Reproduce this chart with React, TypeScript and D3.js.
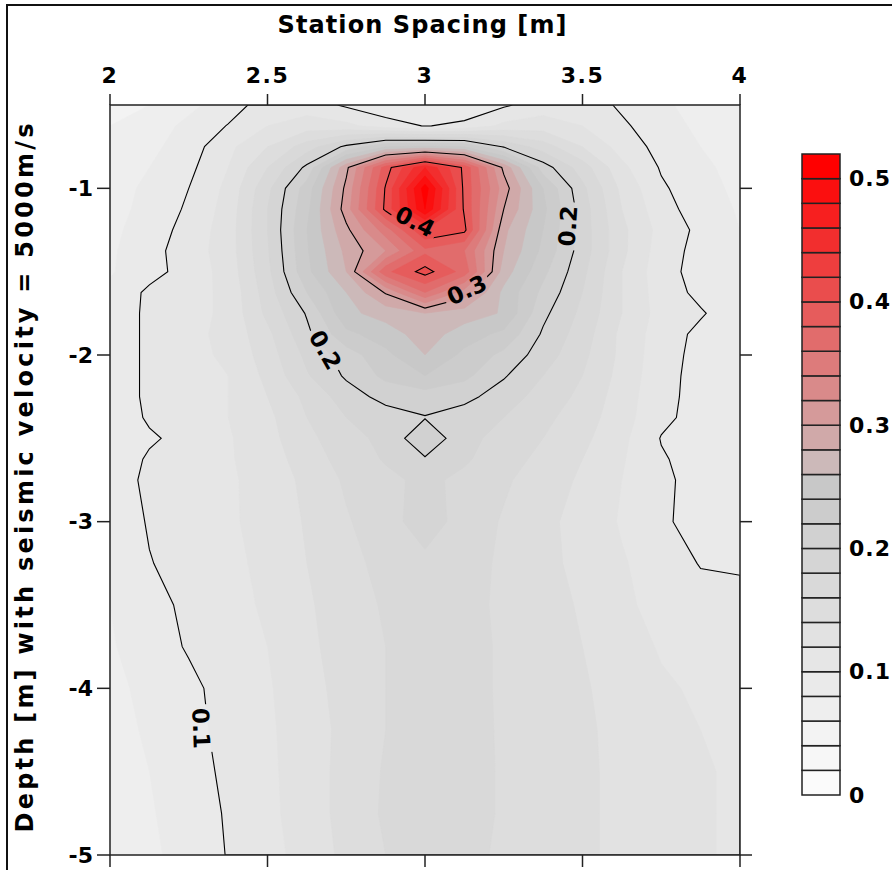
import React from "react";
import * as d3 from "d3";

// grid of the sensitivity section
const stationX = [2, 2.125, 2.25, 2.375, 2.5, 2.625, 2.75, 2.875, 3, 3.125, 3.25, 3.375, 3.5, 3.625, 3.75, 3.875, 4];
const depthRows = [-0.5, -0.625, -0.75, -0.875, -1, -1.125, -1.25, -1.375, -1.5, -1.625, -1.75, -1.875, -2, -2.125,
  -2.25, -2.375, -2.5, -2.625, -2.75, -3, -3.25, -3.5, -3.75, -4, -4.25, -4.5, -4.75, -5];
const sensitivity = [
  [0.050, 0.060, 0.075, 0.090, 0.110, 0.110, 0.097, 0.085, 0.080, 0.085, 0.097, 0.110, 0.110, 0.097, 0.085, 0.070, 0.060],
  [0.060, 0.070, 0.085, 0.101, 0.120, 0.130, 0.125, 0.110, 0.099, 0.105, 0.125, 0.130, 0.120, 0.103, 0.090, 0.075, 0.065],
  [0.065, 0.075, 0.090, 0.115, 0.140, 0.170, 0.205, 0.240, 0.245, 0.240, 0.198, 0.170, 0.140, 0.112, 0.093, 0.080, 0.070],
  [0.068, 0.080, 0.095, 0.120, 0.160, 0.205, 0.295, 0.390, 0.460, 0.395, 0.295, 0.210, 0.170, 0.125, 0.098, 0.085, 0.072],
  [0.070, 0.085, 0.100, 0.125, 0.175, 0.230, 0.305, 0.402, 0.510, 0.395, 0.310, 0.240, 0.185, 0.135, 0.103, 0.088, 0.075],
  [0.072, 0.087, 0.103, 0.128, 0.180, 0.235, 0.310, 0.405, 0.500, 0.397, 0.300, 0.245, 0.190, 0.140, 0.108, 0.090, 0.078],
  [0.075, 0.090, 0.107, 0.130, 0.180, 0.240, 0.295, 0.350, 0.420, 0.405, 0.285, 0.240, 0.190, 0.145, 0.113, 0.095, 0.080],
  [0.077, 0.093, 0.110, 0.130, 0.178, 0.238, 0.285, 0.320, 0.375, 0.360, 0.280, 0.235, 0.190, 0.145, 0.110, 0.093, 0.080],
  [0.078, 0.093, 0.108, 0.128, 0.175, 0.235, 0.280, 0.375, 0.408, 0.372, 0.270, 0.225, 0.185, 0.140, 0.108, 0.092, 0.082],
  [0.085, 0.104, 0.112, 0.125, 0.170, 0.220, 0.260, 0.302, 0.360, 0.310, 0.255, 0.215, 0.180, 0.140, 0.110, 0.095, 0.085],
  [0.085, 0.105, 0.112, 0.125, 0.165, 0.202, 0.255, 0.268, 0.280, 0.270, 0.258, 0.205, 0.175, 0.140, 0.112, 0.102, 0.088],
  [0.085, 0.105, 0.115, 0.125, 0.155, 0.195, 0.235, 0.250, 0.270, 0.250, 0.235, 0.197, 0.170, 0.135, 0.110, 0.095, 0.085],
  [0.085, 0.105, 0.115, 0.123, 0.150, 0.185, 0.210, 0.235, 0.260, 0.235, 0.215, 0.190, 0.165, 0.135, 0.108, 0.094, 0.085],
  [0.085, 0.105, 0.113, 0.120, 0.145, 0.178, 0.203, 0.225, 0.240, 0.225, 0.202, 0.180, 0.160, 0.133, 0.107, 0.093, 0.085],
  [0.085, 0.105, 0.112, 0.120, 0.140, 0.165, 0.190, 0.207, 0.210, 0.206, 0.190, 0.172, 0.155, 0.130, 0.106, 0.093, 0.085],
  [0.085, 0.103, 0.110, 0.120, 0.135, 0.160, 0.180, 0.190, 0.199, 0.190, 0.180, 0.165, 0.150, 0.128, 0.105, 0.092, 0.085],
  [0.080, 0.097, 0.107, 0.118, 0.133, 0.155, 0.172, 0.186, 0.215, 0.187, 0.172, 0.160, 0.145, 0.125, 0.099, 0.090, 0.085],
  [0.085, 0.103, 0.110, 0.118, 0.130, 0.150, 0.168, 0.182, 0.198, 0.183, 0.168, 0.155, 0.140, 0.122, 0.102, 0.092, 0.085],
  [0.088, 0.105, 0.110, 0.117, 0.128, 0.145, 0.163, 0.175, 0.185, 0.175, 0.163, 0.150, 0.137, 0.120, 0.104, 0.093, 0.087],
  [0.085, 0.102, 0.110, 0.117, 0.127, 0.142, 0.158, 0.172, 0.190, 0.172, 0.158, 0.145, 0.133, 0.118, 0.103, 0.093, 0.088],
  [0.082, 0.099, 0.108, 0.115, 0.125, 0.140, 0.155, 0.165, 0.175, 0.167, 0.157, 0.145, 0.135, 0.122, 0.110, 0.099, 0.098],
  [0.080, 0.092, 0.105, 0.113, 0.123, 0.137, 0.152, 0.162, 0.170, 0.165, 0.157, 0.147, 0.138, 0.125, 0.112, 0.107, 0.105],
  [0.078, 0.090, 0.102, 0.110, 0.120, 0.135, 0.150, 0.160, 0.168, 0.165, 0.158, 0.150, 0.140, 0.130, 0.118, 0.112, 0.110],
  [0.075, 0.085, 0.095, 0.108, 0.118, 0.132, 0.148, 0.160, 0.170, 0.165, 0.158, 0.150, 0.142, 0.133, 0.123, 0.117, 0.113],
  [0.072, 0.083, 0.094, 0.106, 0.117, 0.130, 0.146, 0.160, 0.172, 0.166, 0.158, 0.150, 0.143, 0.135, 0.126, 0.120, 0.115],
  [0.070, 0.080, 0.092, 0.104, 0.116, 0.130, 0.147, 0.162, 0.178, 0.167, 0.158, 0.150, 0.143, 0.136, 0.128, 0.122, 0.117],
  [0.068, 0.078, 0.090, 0.102, 0.115, 0.130, 0.147, 0.163, 0.178, 0.167, 0.158, 0.150, 0.143, 0.136, 0.128, 0.122, 0.117],
  [0.066, 0.076, 0.088, 0.101, 0.113, 0.128, 0.145, 0.160, 0.172, 0.165, 0.157, 0.150, 0.143, 0.136, 0.128, 0.122, 0.117],
];

const fillLevels = [0, 0.02, 0.04, 0.06, 0.08, 0.1, 0.12, 0.14, 0.16, 0.18, 0.2, 0.22, 0.24, 0.26, 0.28, 0.3,
  0.32, 0.34, 0.36, 0.38, 0.4, 0.42, 0.44, 0.46, 0.48, 0.5];
const lineLevels = [0.1, 0.2, 0.3, 0.4];
const xTicks = [2, 2.5, 3, 3.5, 4];
const yTicks = [-1, -2, -3, -4, -5];
const legendTicks = [0, 0.1, 0.2, 0.3, 0.4, 0.5];

// contour labels: text, station, depth, rotation
const lineLabels = [
  { text: "0.4", x: 2.968, y: -1.2, angle: 27 },
  { text: "0.3", x: 3.133, y: -1.61, angle: -25 },
  { text: "0.2", x: 2.683, y: -1.97, angle: 60 },
  { text: "0.2", x: 3.454, y: -1.226, angle: -86 },
  { text: "0.1", x: 2.289, y: -4.24, angle: 88 },
];

const W = 892;
const H = 870;
const left = 110, right = 740, top = 105, bottom = 855;
const font = "'DejaVu Sans', sans-serif";

const xScale = d3.scaleLinear().domain([2, 4]).range([left, right]);
const yScale = d3.scaleLinear().domain([-0.5, -5]).range([top, bottom]);
const colScale = d3.scaleLinear().domain(stationX.map((_, i) => i)).range(stationX);
const rowScale = d3.scaleLinear().domain(depthRows.map((_, i) => i)).range(depthRows);
const color = d3.scaleLinear<string>().domain([0, 0.24, 0.5]).range(["#fbfbfb", "#c8c8c8", "#ff0000"]);

const legendY = d3.scaleLinear().domain([0, 0.52]).range([795, 154]);

const nx = stationX.length;
const ny = depthRows.length;
const values = sensitivity.flat();

function project(mp: any) {
  const pt = ([u, v]: number[]) => {
    const i = Math.max(0, Math.min(nx - 1, u - 0.5));
    const j = Math.max(0, Math.min(ny - 1, v - 0.5));
    return [xScale(colScale(i)), yScale(rowScale(j))];
  };
  return { ...mp, coordinates: mp.coordinates.map((poly: any) => poly.map((ring: any) => ring.map(pt))) };
}

const path = d3.geoPath();
const fills = d3.contours().size([nx, ny]).thresholds(fillLevels)(values).map(project);
const lines = d3.contours().size([nx, ny]).thresholds(lineLevels)(values).map(project);

export default function App() {
  return (
    <svg width={W} height={H} style={{ position: "absolute", left: 0, top: 0, background: "#fff" }}>
      <defs>
        <clipPath id="plotClip">
          <rect x={left} y={top} width={right - left} height={bottom - top} />
        </clipPath>
        <mask id="labelGaps" maskUnits="userSpaceOnUse" x={0} y={0} width={W} height={H}>
          <rect x={0} y={0} width={W} height={H} fill="white" />
          {lineLabels.map((l, i) => (
            <rect key={i} transform={`translate(${xScale(l.x)},${yScale(l.y)}) rotate(${l.angle})`}
              x={-24} y={-13} width={48} height={26} fill="black" />
          ))}
        </mask>
      </defs>

      <rect x={7} y={5} width={W + 20} height={H + 20} fill="none" stroke="#111" strokeWidth={2} />

      <g clipPath="url(#plotClip)">
        {fills.map((c, i) => (
          <path key={i} d={path(c as any) || ""} fill={color(c.value)} stroke={color(c.value)} strokeWidth={0.5} />
        ))}
      </g>
      <g clipPath="url(#plotClip)" mask="url(#labelGaps)">
        {lines.map((c, i) => (
          <path key={i} d={path(c as any) || ""} fill="none" stroke="#000" strokeWidth={1.1} />
        ))}
      </g>
      {lineLabels.map((l, i) => (
        <text key={i} transform={`translate(${xScale(l.x)},${yScale(l.y)}) rotate(${l.angle})`}
          textAnchor="middle" dominantBaseline="central" fontFamily={font} fontWeight="bold"
          fontSize={23} fill="#000">{l.text}</text>
      ))}

      <rect x={left} y={top} width={right - left} height={bottom - top} fill="none" stroke="#222" strokeWidth={1.5} />
      {xTicks.map(t => (
        <g key={t}>
          <line x1={xScale(t)} x2={xScale(t)} y1={top - 11} y2={top} stroke="#222" strokeWidth={1.5} />
          <line x1={xScale(t)} x2={xScale(t)} y1={bottom} y2={bottom + 12} stroke="#222" strokeWidth={1.5} />
          <text x={xScale(t)} y={83} textAnchor="middle" fontFamily={font} fontWeight="bold" fontSize={22}
            letterSpacing={1.5}>{t}</text>
        </g>
      ))}
      {yTicks.map(t => (
        <g key={t}>
          <line x1={left - 13} x2={left} y1={yScale(t)} y2={yScale(t)} stroke="#222" strokeWidth={1.5} />
          <line x1={right} x2={right + 12} y1={yScale(t)} y2={yScale(t)} stroke="#222" strokeWidth={1.5} />
          <text x={93} y={yScale(t)} textAnchor="end" dominantBaseline="central" fontFamily={font}
            fontWeight="bold" fontSize={22}>{String(t)}</text>
        </g>
      ))}

      <text x={422} y={33} textAnchor="middle" fontFamily={font} fontWeight="bold" fontSize={24}
        textLength={289} lengthAdjust="spacing">Station Spacing [m]</text>
      <text transform="translate(33,478) rotate(-90)" textAnchor="middle" fontFamily={font} fontWeight="bold"
        fontSize={24} textLength={709} lengthAdjust="spacing">Depth [m] with seismic velocity = 5000m/s</text>

      <g>
        {fillLevels.map(v => (
          <rect key={v} x={802} width={38} y={legendY(v + 0.02)} height={legendY(v) - legendY(v + 0.02)}
            fill={color(v)} stroke="#222" strokeWidth={1.5} />
        ))}
        {legendTicks.map(t => (
          <text key={t} x={849} y={legendY(t)} dominantBaseline="central" fontFamily={font} fontWeight="bold"
            fontSize={22} letterSpacing={1}>{t}</text>
        ))}
      </g>
    </svg>
  );
}
